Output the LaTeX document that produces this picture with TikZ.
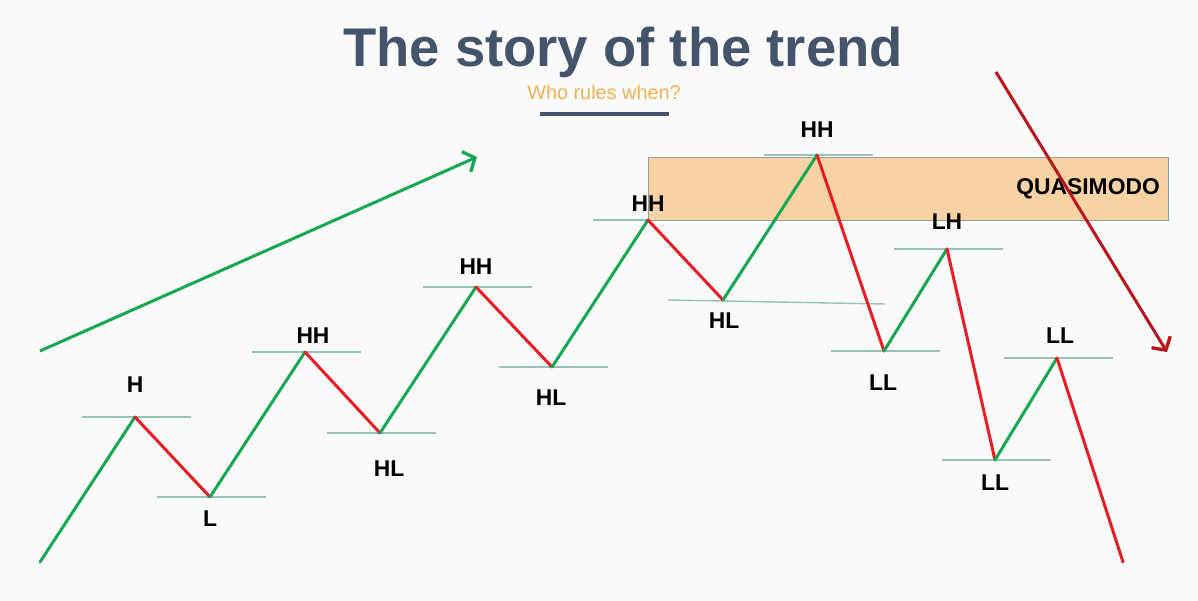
\documentclass[tikz,border=0pt]{standalone}
\usepackage{fontspec}
\setmainfont{Liberation Sans}
\usetikzlibrary{arrows.meta,calc}

\definecolor{upgreen}{RGB}{20,168,80}
\definecolor{downred}{RGB}{232,28,36}
\definecolor{darkred}{RGB}{185,20,30}
\definecolor{slate}{RGB}{68,84,106}
\definecolor{zone}{RGB}{247,210,162}
\definecolor{levelgray}{RGB}{150,194,184}
\definecolor{subtitle}{RGB}{238,178,82}

\tikzset{
    up/.style={upgreen, line width=1.7pt, line cap=round},
    down/.style={downred, line width=1.7pt, line cap=round},
    level/.style={levelgray, line width=0.8pt},
    swing/.style={font=\fontsize{13}{13}\selectfont\bfseries, text=black},
    trendarrow/.style={line width=1.7pt, -{Straight Barb[length=1.9mm,width=4.4mm,line width=1.9pt]}}
}

\begin{document}
\begin{tikzpicture}[x=0.02cm, y=-0.02cm]
    % Rahmen
    \useasboundingbox[fill={rgb,255:red,250;green,250;blue,250}] (0,0) rectangle (1198,601);

    % Titel
    \node[font=\fontsize{31}{31}\selectfont\bfseries, text=slate] (title) at (623,52) {The story of the trend};
    \node[font=\fontsize{11.3}{12}\selectfont, text=subtitle] (sub) at (604,92) {Who rules when?};
    \draw[slate, line width=2.2pt] (540,114) -- (669,114);

    % Quasimodo-Zone
    \node[draw={rgb,255:red,140;green,160;blue,160}, fill=zone, line width=0.8pt,
          minimum width=520*0.02cm, minimum height=63*0.02cm, anchor=north west,
          inner sep=0pt] (qm) at (648,157) {};
    \node[swing, anchor=east] (qmtext) at (1166,189) {QUASIMODO};

    % Umkehrpunkte
    \coordinate (start) at (40,562);
    \coordinate (h1) at (135,417);
    \coordinate (l1) at (210,497);
    \coordinate (hh1) at (305,352);
    \coordinate (hl1) at (380,433);
    \coordinate (hh2) at (476,287);
    \coordinate (hl2) at (552,367);
    \coordinate (hh3) at (648,220);
    \coordinate (hl3) at (723,300);
    \coordinate (hh4) at (817,155);
    \coordinate (ll1) at (884,351);
    \coordinate (lh1) at (947,249);
    \coordinate (ll2) at (995,460);
    \coordinate (ll3) at (1057,358);
    \coordinate (end) at (1123,562);

    % Niveaulinien
    \foreach \p in {h1,l1,hh1,hl1,hh2,hl2,hh4,ll1,lh1,ll2,ll3}
        \draw[level] ($(\p)+(-53,0)$) -- ($(\p)+(56,0)$);
    \draw[level] ($(hh3)+(-55,0)$) -- (hh3);
    \draw[level] ($(hl3)+(-55,0)$) -- ($(hl3)+(162,4)$);

    % Trendlinie
    \draw[up] (start) -- (h1);
    \draw[down] (h1) -- (l1);
    \draw[up] (l1) -- (hh1);
    \draw[down] (hh1) -- (hl1);
    \draw[up] (hl1) -- (hh2);
    \draw[down] (hh2) -- (hl2);
    \draw[up] (hl2) -- (hh3);
    \draw[down] (hh3) -- (hl3);
    \draw[up] (hl3) -- (hh4);
    \draw[down] (hh4) -- (ll1);
    \draw[up] (ll1) -- (lh1);
    \draw[down] (lh1) -- (ll2);
    \draw[up] (ll2) -- (ll3);
    \draw[down] (ll3) -- (end);

    % Beschriftungen
    \node[swing] (tH) at (135,385) {H};
    \node[swing] (tL) at (210,519) {L};
    \node[swing] (tHH1) at (313,336) {HH};
    \node[swing] (tHL1) at (389,469) {HL};
    \node[swing] (tHH2) at (476,267) {HH};
    \node[swing] (tHL2) at (551,398) {HL};
    \node[swing] (tHH3) at (648,204) {HH};
    \node[swing] (tHL3) at (724,321) {HL};
    \node[swing] (tHH4) at (817,130) {HH};
    \node[swing] (tLL1) at (883,383) {LL};
    \node[swing] (tLH) at (947,222) {LH};
    \node[swing] (tLL2) at (995,483) {LL};
    \node[swing] (tLL3) at (1060,336) {LL};

    % Trendpfeile
    \coordinate (ga) at (40,351);
    \coordinate (gb) at (477,157);
    \draw[trendarrow, upgreen] (ga) -- (gb);
    \coordinate (ra) at (996,72);
    \coordinate (rb) at (1167,352);
    \draw[trendarrow, darkred] (ra) -- (rb);
\end{tikzpicture}
\end{document}
